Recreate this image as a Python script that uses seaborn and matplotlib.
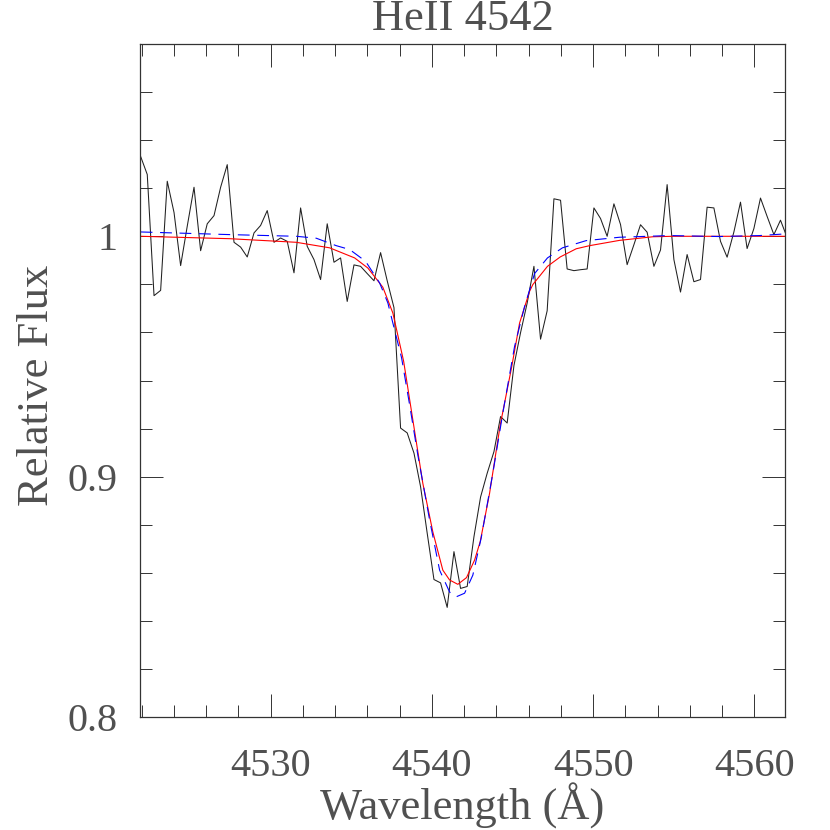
import numpy as np
import pandas as pd
import matplotlib
matplotlib.use('Agg')
import matplotlib.pyplot as plt
from matplotlib.ticker import MultipleLocator, FixedLocator, FixedFormatter
import seaborn as sns

obs_wave = [4521.94, 4522.35, 4522.77, 4523.18, 4523.59, 4524.01, 4524.42, 4524.83,
            4525.25, 4525.66, 4526.07, 4526.49, 4526.90, 4527.31, 4527.73, 4528.14,
            4528.55, 4528.97, 4529.38, 4529.79, 4530.21, 4530.62, 4531.03, 4531.45,
            4531.86, 4532.27, 4532.69, 4533.10, 4533.51, 4533.93, 4534.34, 4534.75,
            4535.17, 4535.58, 4535.99, 4536.41, 4536.82, 4537.23, 4537.65, 4538.06,
            4538.47, 4538.89, 4539.30, 4539.71, 4540.13, 4540.54, 4540.95, 4541.37,
            4541.78, 4542.19, 4542.61, 4543.02, 4543.43, 4543.85, 4544.26, 4544.67,
            4545.09, 4545.50, 4545.91, 4546.33, 4546.74, 4547.15, 4547.57, 4547.98,
            4548.39, 4548.81, 4549.22, 4549.63, 4550.05, 4550.46, 4550.87, 4551.29,
            4551.70, 4552.11, 4552.53, 4552.94, 4553.35, 4553.77, 4554.18, 4554.59,
            4555.01, 4555.42, 4555.83, 4556.25, 4556.66, 4557.07, 4557.49, 4557.90,
            4558.31, 4558.73, 4559.14, 4559.55, 4559.97, 4560.38, 4560.79, 4561.21,
            4561.62, 4562.03]
obs_flux = [1.0332, 1.0257, 0.9753, 0.9775, 1.0229, 1.0099, 0.9878, 1.0042,
            1.0204, 0.9940, 1.0052, 1.0086, 1.0204, 1.0298, 0.9975, 0.9955,
            0.9914, 1.0014, 1.0045, 1.0107, 0.9975, 0.9993, 0.9979, 0.9848,
            1.0118, 0.9958, 0.9903, 0.9820, 1.0052, 0.9892, 0.9910, 0.9729,
            0.9881, 0.9875, 0.9845, 0.9815, 0.9932, 0.9815, 0.9703, 0.9202,
            0.9182, 0.9098, 0.8958, 0.8765, 0.8572, 0.8558, 0.8456, 0.8688,
            0.8535, 0.8543, 0.8750, 0.8915, 0.9014, 0.9104, 0.9250, 0.9223,
            0.9462, 0.9599, 0.9722, 0.9875, 0.9572, 0.9690, 1.0156, 1.0150,
            0.9864, 0.9857, 0.9861, 0.9864, 1.0118, 1.0074, 1.0000, 1.0135,
            1.0049, 0.9882, 0.9965, 1.0048, 1.0017, 0.9875, 0.9943, 1.0215,
            0.9903, 0.9768, 0.9924, 0.9811, 0.9820, 1.0121, 1.0118, 0.9979,
            0.9913, 1.0018, 1.0142, 0.9949, 1.0032, 1.0159, 1.0083, 1.0007,
            1.0067, 0.9995]

# model 1 (red, solid)
red_wave = [4521.94, 4527.46, 4531.59, 4533.66, 4535.21, 4536.03, 4536.96, 4537.58,
            4538.25, 4538.82, 4539.44, 4540.06, 4540.68, 4541.10, 4541.61, 4542.15,
            4542.65, 4543.00, 4543.58, 4544.24, 4544.94, 4545.44, 4546.06, 4546.26,
            4547.17, 4547.96, 4548.95, 4549.78, 4551.64, 4553.70, 4554.94, 4561.93]
red_flux = [1.0000, 0.9990, 0.9975, 0.9952, 0.9910, 0.9868, 0.9788, 0.9681,
            0.9480, 0.9236, 0.8972, 0.8770, 0.8611, 0.8570, 0.8552, 0.8580,
            0.8653, 0.8730, 0.8931, 0.9215, 0.9453, 0.9639, 0.9771, 0.9799,
            0.9875, 0.9914, 0.9948, 0.9961, 0.9983, 0.9998, 1.0000, 1.0000]

# model 2 (blue, dashed)
blue_wave = [4521.94, 4527.46, 4531.59, 4532.83, 4534.07, 4534.90, 4535.89, 4536.76,
             4537.27, 4537.79, 4538.12, 4538.62, 4539.13, 4539.86, 4540.48, 4541.10,
             4541.51, 4542.03, 4542.54, 4543.06, 4543.78, 4544.40, 4545.13, 4545.75,
             4546.37, 4547.17, 4548.10, 4549.57, 4551.64, 4554.74, 4557.84, 4560.32,
             4561.93]
blue_flux = [1.0018, 1.0007, 1.0000, 0.9992, 0.9961, 0.9945, 0.9896, 0.9806,
             0.9723, 0.9583, 0.9495, 0.9299, 0.9090, 0.8820, 0.8611, 0.8520,
             0.8500, 0.8515, 0.8590, 0.8745, 0.9014, 0.9264, 0.9542, 0.9708,
             0.9845, 0.9910, 0.9952, 0.9982, 0.9996, 1.0003, 0.9999, 1.0003,
             1.0010]

x_major = [4530, 4540, 4550, 4560]
y_major = [0.8, 0.9, 1.0]
y_labels = ['0.8', '0.9', '1']

sns.set_theme(style='ticks')
plt.rcParams['font.family'] = ['Liberation Serif', 'DejaVu Serif']
plt.rcParams['lines.scale_dashes'] = False
TXT = '#505050'

fig = plt.figure(figsize=(8.3, 8.3), dpi=100)
ax = fig.add_axes([140 / 830, 1 - 717 / 830, 645 / 830, 673 / 830])

df_obs = pd.DataFrame({'wave': obs_wave, 'flux': obs_flux})
df_red = pd.DataFrame({'wave': red_wave, 'flux': red_flux})
df_blue = pd.DataFrame({'wave': blue_wave, 'flux': blue_flux})

sns.lineplot(data=df_obs, x='wave', y='flux', ax=ax, color='#202020', lw=0.75,
             sort=False, estimator=None)
sns.lineplot(data=df_red, x='wave', y='flux', ax=ax, color='red', lw=0.8,
             sort=False, estimator=None)
sns.lineplot(data=df_blue, x='wave', y='flux', ax=ax, color='blue', lw=0.8,
             sort=False, estimator=None)
ax.lines[-1].set_dashes([8.5, 5.5])

ax.set_xlim(4521.9, 4561.9)
ax.set_ylim(0.8, 1.08)

ax.xaxis.set_major_locator(FixedLocator(x_major))
ax.xaxis.set_minor_locator(MultipleLocator(2))
ax.yaxis.set_major_locator(FixedLocator(y_major))
ax.yaxis.set_major_formatter(FixedFormatter(y_labels))
ax.yaxis.set_minor_locator(MultipleLocator(0.02))

ax.tick_params(which='both', direction='in', top=True, right=True,
               color='#333333', width=0.7, labelsize=29, labelcolor=TXT)
ax.tick_params(which='major', length=16.5)
ax.tick_params(which='minor', length=8.6)
ax.tick_params(axis='x', which='major', pad=22)
ax.tick_params(axis='y', which='major', pad=16)

for s in ax.spines.values():
    s.set_linewidth(0.9)
    s.set_color('#333333')

ax.set_xlabel('Wavelength (Å)', fontsize=32, color=TXT)
ax.set_ylabel('Relative Flux', fontsize=32, color=TXT)
ax.set_title('HeII 4542', fontsize=32, color=TXT, pad=10)

# place axis labels where the reference has them
ax.xaxis.label.set_va('center')
ax.xaxis.set_label_coords(0.5, (717 - 806) / 673)
ax.yaxis.label.set_va('center')
ax.yaxis.set_label_coords((37 - 140) / 645, (717 - 385) / 673)

fig.savefig('out.png', dpi=100)
